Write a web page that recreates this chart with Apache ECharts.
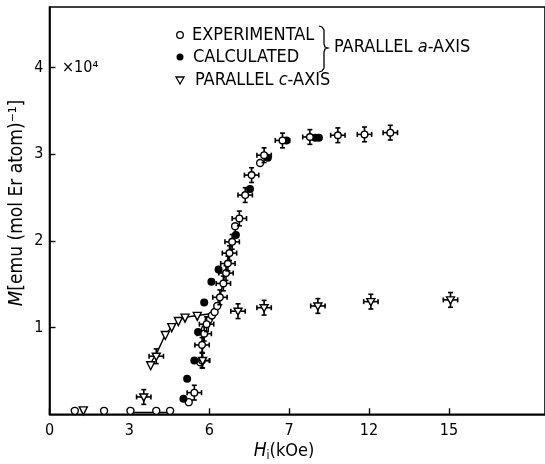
<!DOCTYPE html>
<html>
<head>
<meta charset="utf-8">
<script src="https://cdn.jsdelivr.net/npm/echarts@6/dist/echarts.min.js"></script>
<style>
  html, body { margin: 0; padding: 0; background: #fff; }
  #chart { width: 545px; height: 464px; }
</style>
</head>
<body>
<div id="chart"></div>
<script>
// tick positions and the labels printed under them
const xTicks = [0, 3, 6, 9, 12, 15]
const xTickLabels = ['0', '3', '6', '7', '12', '15']
const yTicks = [1, 2, 3, 4]

// half size of the error crosses, in data units (kOe, 10^4 emu)
const errX = 0.27
const errY = 0.085

// parallel a-axis, experimental, open circles
const aExpPlain = [
  [0.95, 0.04], [2.05, 0.04], [3.04, 0.04], [4.01, 0.04], [4.53, 0.04],
  [5.23, 0.14], [5.66, 0.60], [5.84, 0.98], [5.98, 1.09], [6.10, 1.14],
  [6.20, 1.18], [6.30, 1.25], [6.97, 2.17], [7.91, 2.90]
]
// same, with error bars
const aExpErr = [
  [5.44, 0.25], [5.73, 0.62], [5.73, 0.80], [5.81, 0.93], [5.90, 1.04],
  [6.40, 1.35], [6.53, 1.51], [6.63, 1.63], [6.70, 1.74], [6.76, 1.86],
  [6.86, 1.99], [7.13, 2.26], [7.35, 2.53], [7.59, 2.76], [8.06, 2.99],
  [8.75, 3.16], [9.78, 3.20], [10.83, 3.22], [11.83, 3.23], [12.80, 3.25]
]
// parallel a-axis, calculated, filled dots
const aCalc = [
  [5.03, 0.18], [5.17, 0.41], [5.44, 0.62], [5.58, 0.95], [5.81, 1.29],
  [6.08, 1.53], [6.35, 1.67], [7.00, 2.07], [7.53, 2.60], [8.20, 2.96],
  [8.90, 3.16], [9.98, 3.19], [10.12, 3.19]
]
// parallel c-axis, triangles
const cPlain = [
  [1.27, 0.04], [3.80, 0.56], [4.35, 0.91], [4.59, 1.00], [4.84, 1.07],
  [5.09, 1.11], [5.55, 1.13]
]
const cErr = [
  [3.54, 0.20], [4.01, 0.67], [5.75, 0.62], [7.08, 1.19], [8.06, 1.23],
  [10.08, 1.25], [12.07, 1.30], [15.06, 1.32]
]
// hand drawn curves
const cCurve = [
  [3.82, 0.60], [4.05, 0.72], [4.35, 0.92], [4.60, 1.01], [4.85, 1.08],
  [5.10, 1.12], [5.55, 1.14], [6.05, 1.16]
]
const aCurve = [
  [5.70, 0.60], [5.80, 0.90], [5.95, 1.08], [6.10, 1.16], [6.30, 1.27],
  [6.45, 1.42], [6.65, 1.70], [6.85, 1.98], [7.05, 2.20]
]
const lowCurve = [[3.00, 0.02], [4.60, 0.02]]

const FONT = 'DejaVu Sans Condensed'
const INK = '#000'

/**
 * marker with error cross, kind = 'circle' | 'triangle'
 */
const errItem = kind => (params, api) => {
  const c = api.coord([api.value(0), api.value(1)])
  const s = api.size([errX, errY])
  const ex = s[0], ey = s[1], cap = 2.5
  const st = { stroke: INK, lineWidth: 1.6 }
  const x = c[0], y = c[1]
  const children = [
    { type: 'line', shape: { x1: x - ex, y1: y, x2: x + ex, y2: y }, style: st },
    { type: 'line', shape: { x1: x, y1: y - ey, x2: x, y2: y + ey }, style: st },
    { type: 'line', shape: { x1: x - ex, y1: y - cap, x2: x - ex, y2: y + cap }, style: st },
    { type: 'line', shape: { x1: x + ex, y1: y - cap, x2: x + ex, y2: y + cap }, style: st },
    { type: 'line', shape: { x1: x - cap, y1: y - ey, x2: x + cap, y2: y - ey }, style: st },
    { type: 'line', shape: { x1: x - cap, y1: y + ey, x2: x + cap, y2: y + ey }, style: st }
  ]
  if (kind === 'circle') {
    children.push({ type: 'circle', shape: { cx: x, cy: y, r: 3.3 },
      style: { fill: '#fff', stroke: INK, lineWidth: 1.4 } })
  } else {
    children.push({ type: 'polygon',
      shape: { points: [[x - 4, y - 3], [x + 4, y - 3], [x, y + 4]] },
      style: { fill: '#fff', stroke: INK, lineWidth: 1.4 } })
  }
  return { type: 'group', children }
}

const lineSeries = data => ({
  type: 'line', data, symbol: 'none', silent: true,
  lineStyle: { color: INK, width: 1.4 }, z: 1
})

const font = size => size + 'px "' + FONT + '"'

const chart = echarts.init(document.getElementById('chart'))
chart.setOption({
  backgroundColor: '#fff',
  animation: false,
  grid: {
    left: 49.5, right: -2, top: 7, bottom: 49.7,
    show: true, borderColor: INK, borderWidth: 1.6
  },
  xAxis: {
    type: 'value', min: 0, max: 18.61,
    splitLine: { show: false },
    axisLine: { lineStyle: { color: INK, width: 1.6 } },
    axisTick: { inside: true, length: 6, customValues: xTicks, lineStyle: { color: INK, width: 1.4 } },
    axisLabel: {
      customValues: xTicks, margin: 9,
      color: INK, fontFamily: FONT, fontSize: 16,
      formatter: v => xTickLabels[xTicks.indexOf(v)] || ''
    }
  },
  yAxis: {
    type: 'value', min: 0, max: 4.70,
    splitLine: { show: false },
    axisLine: { lineStyle: { color: INK, width: 1.6 } },
    axisTick: { inside: true, length: 6, customValues: yTicks, lineStyle: { color: INK, width: 1.4 } },
    axisLabel: { customValues: yTicks, margin: 6, color: INK, fontFamily: FONT, fontSize: 16 }
  },
  series: [
    lineSeries(cCurve),
    lineSeries(aCurve),
    lineSeries(lowCurve),
    {
      type: 'scatter', data: aExpPlain, symbol: 'circle', symbolSize: 7,
      itemStyle: { color: '#fff', borderColor: INK, borderWidth: 1.4, opacity: 1 }, z: 3
    },
    {
      type: 'scatter', data: aCalc, symbol: 'circle', symbolSize: 8,
      itemStyle: { color: INK, opacity: 1 }, z: 4
    },
    {
      type: 'scatter', data: cPlain, symbol: 'triangle', symbolRotate: 180, symbolSize: 8,
      itemStyle: { color: '#fff', borderColor: INK, borderWidth: 1.4, opacity: 1 }, z: 3
    },
    { type: 'custom', data: aExpErr, renderItem: errItem('circle'), z: 5 },
    { type: 'custom', data: cErr, renderItem: errItem('triangle'), z: 5 }
  ],
  graphic: [
    // legend
    { type: 'circle', shape: { cx: 180, cy: 35, r: 3.3 }, style: { fill: '#fff', stroke: INK, lineWidth: 1.3 } },
    { type: 'text', x: 192, y: 35, style: { text: 'EXPERIMENTAL', font: font(18), fill: INK, verticalAlign: 'middle' } },
    { type: 'circle', shape: { cx: 180, cy: 57, r: 3.5 }, style: { fill: INK } },
    { type: 'text', x: 193, y: 57, style: { text: 'CALCULATED', font: font(18), fill: INK, verticalAlign: 'middle' } },
    { type: 'polygon', shape: { points: [[176, 77], [184, 77], [180, 84]] }, style: { fill: '#fff', stroke: INK, lineWidth: 1.3 } },
    {
      type: 'text', x: 195, y: 80,
      style: {
        text: 'PARALLEL {i|c}-AXIS', font: font(18), fill: INK, verticalAlign: 'middle',
        rich: { i: { fontStyle: 'italic', fontFamily: FONT, fontSize: 18 } }
      }
    },
    {
      type: 'polyline',
      shape: { points: [[319, 26], [322, 27], [324, 30], [324, 44], [325, 47], [328, 48],
        [325, 49], [324, 52], [324, 68], [322, 71], [319, 72]] },
      style: { fill: 'none', stroke: INK, lineWidth: 1.3 }
    },
    {
      type: 'text', x: 334, y: 47,
      style: {
        text: 'PARALLEL {i|a}-AXIS', font: font(18), fill: INK, verticalAlign: 'middle',
        rich: { i: { fontStyle: 'italic', fontFamily: FONT, fontSize: 18 } }
      }
    },
    // scale factor
    { type: 'text', x: 62, y: 68, style: { text: '×10⁴', font: font(16), fill: INK, verticalAlign: 'middle' } },
    // axis names
    {
      type: 'text', x: 17, y: 203, rotation: Math.PI / 2,
      style: {
        text: '{i|M}[emu (mol Er atom)⁻¹]', align: 'center', verticalAlign: 'middle',
        font: font(19), fill: INK,
        rich: { i: { fontStyle: 'italic', fontFamily: FONT, fontSize: 20 } }
      }
    },
    {
      type: 'text', x: 284, y: 451,
      style: {
        text: '{i|H}{s|i}(kOe)', align: 'center', verticalAlign: 'middle',
        font: font(18), fill: INK,
        rich: {
          i: { fontStyle: 'italic', fontFamily: FONT, fontSize: 19 },
          s: { fontFamily: FONT, fontSize: 12, padding: [9, 0, 0, 0] }
        }
      }
    }
  ]
})
</script>
</body>
</html>
